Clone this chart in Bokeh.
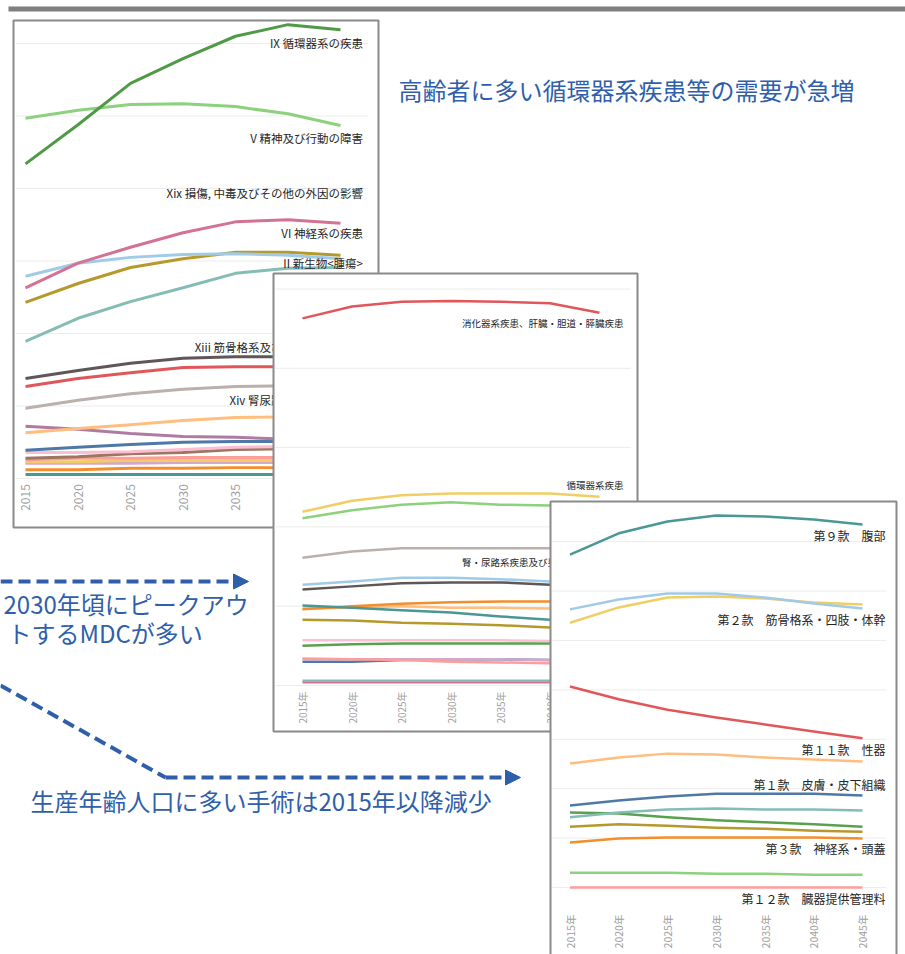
import math
from bokeh.plotting import figure
from bokeh.models import Range1d, Arrow, NormalHead
from bokeh.embed import file_html
from bokeh.resources import INLINE
from bokeh.core.properties import value

# ---------------- data (arbitrary index units) ----------------
years = [2015, 2020, 2025, 2030, 2035, 2040, 2045]
p1_ticks = ["2015", "2020", "2025", "2030", "2035", "2040", "2045"]
jp_ticks = ["2015年", "2020年", "2025年", "2030年", "2035年", "2040年", "2045年"]

# Panel 1: 傷病大分類
p1_ix       = [4340, 4880, 5450, 5790, 6100, 6260, 6190]
p1_v        = [4970, 5080, 5160, 5170, 5130, 5030, 4870]
p1_vi       = [2630, 2970, 3190, 3390, 3540, 3570, 3520]
p1_skyblue  = [2790, 2970, 3050, 3090, 3100, 3080, 3030]
p1_gold     = [2430, 2690, 2910, 3030, 3120, 3120, 3080]
p1_ii       = [1890, 2210, 2440, 2630, 2830, 2900, 2910]
p1_xiii     = [1380, 1490, 1590, 1660, 1680, 1680, 1670]
p1_red      = [1270, 1380, 1460, 1530, 1540, 1540, 1530]
p1_xiv      = [970, 1080, 1170, 1230, 1270, 1280, 1270]
p1_lorange  = [630, 690, 740, 800, 840, 850, 850]
p1_purple   = [720, 680, 620, 580, 570, 540, 520]
p1_blue     = [390, 430, 470, 500, 510, 510, 510]
p1_lpink    = [360, 360, 370, 400, 430, 440, 440]
p1_brown    = [280, 300, 340, 360, 400, 410, 410]
p1_salmon   = [260, 280, 280, 290, 290, 290, 290]
p1_yellow   = [230, 230, 250, 250, 250, 250, 250]
p1_lavender = [210, 210, 210, 220, 220, 220, 220]
p1_orange   = [120, 120, 140, 140, 150, 150, 150]
p1_teal     = [55, 55, 55, 55, 55, 55, 55]
p1_labels = ["IX  循環器系の疾患", "V  精神及び行動の障害", "Xix  損傷, 中毒及びその他の外因の影響",
             "VI  神経系の疾患", "II  新生物<腫瘍>", "Xiii  筋骨格系及び結合組織の疾患", "Xiv  腎尿路生殖器系の疾患"]

# Panel 2: MDC
p2_digest   = [4630, 4780, 4840, 4850, 4840, 4820, 4700]
p2_circ     = [2190, 2330, 2400, 2420, 2420, 2420, 2380]
p2_lgreen   = [2110, 2210, 2280, 2310, 2280, 2270, 2240]
p2_kidney   = [1610, 1690, 1730, 1730, 1730, 1730, 1720]
p2_skyblue  = [1270, 1310, 1360, 1360, 1340, 1310, 1290]
p2_gray     = [1210, 1250, 1290, 1300, 1300, 1270, 1260]
p2_teal     = [1010, 980, 950, 920, 870, 830, 790]
p2_orange   = [960, 1000, 1030, 1050, 1060, 1060, 1060]
p2_lorange  = [970, 980, 1000, 980, 980, 970, 960]
p2_olive    = [830, 820, 790, 780, 760, 730, 720]
p2_lpink    = [570, 570, 570, 570, 570, 560, 560]
p2_green    = [500, 520, 530, 530, 530, 530, 530]
p2_salmon   = [340, 330, 320, 300, 290, 280, 280]
p2_lavender = [330, 330, 330, 330, 330, 320, 320]
p2_blue     = [300, 300, 320, 330, 330, 320, 320]
p2_lteal    = [60, 60, 60, 60, 60, 60, 60]
p2_magenta  = [40, 40, 40, 40, 40, 40, 40]
p2_labels = ["消化器系疾患、肝臓・胆道・膵臓疾患", "循環器系疾患", "腎・尿路系疾患及び男性生殖器系疾患"]

# Panel 3: 手術 (款)
p3_k9       = [6740, 7170, 7410, 7530, 7510, 7450, 7350]
p3_skyblue  = [5630, 5830, 5950, 5950, 5870, 5750, 5650]
p3_k2       = [5360, 5670, 5870, 5890, 5850, 5770, 5730]
p3_k11      = [4070, 3810, 3600, 3440, 3300, 3160, 3020]
p3_lorange  = [2510, 2630, 2710, 2690, 2630, 2590, 2550]
p3_k1       = [1660, 1760, 1840, 1900, 1900, 1900, 1860]
p3_lteal    = [1420, 1520, 1580, 1600, 1580, 1580, 1560]
p3_green    = [1520, 1500, 1420, 1360, 1320, 1280, 1230]
p3_olive    = [1230, 1280, 1250, 1210, 1190, 1150, 1130]
p3_k3       = [910, 990, 1010, 1010, 1010, 1010, 990]
p3_lgreen   = [300, 300, 300, 280, 280, 260, 260]
p3_k12      = [0, 0, 0, 0, 0, 0, 0]
p3_labels = ["第９款　腹部", "第２款　筋骨格系・四肢・体幹", "第１１款　性器",
             "第１款　皮膚・皮下組織", "第３款　神経系・頭蓋", "第１２款　臓器提供管理料"]

notes = ["高齢者に多い循環器系疾患等の需要が急増", "2030年頃にピークアウ", "トするMDCが多い",
         "生産年齢人口に多い手術は2015年以降減少"]

# ---------------- styles / layout ----------------
W, H = 905, 954
FONT = "Noto Sans CJK JP"
BLUE = "#2f5fab"
GRID = "#ececec"
FRAME = "#8a8a8a"

p1_series = [p1_teal, p1_orange, p1_lavender, p1_yellow, p1_salmon, p1_brown, p1_lpink, p1_blue,
             p1_purple, p1_lorange, p1_xiv, p1_red, p1_xiii, p1_ii, p1_gold, p1_skyblue, p1_vi, p1_v, p1_ix]
p1_colors = ["#499894", "#F28E2B", "#D4A6C8", "#F1CE63", "#FF9D9A", "#9D7660", "#FABFD2", "#4E79A7",
             "#B07AA1", "#FFBE7D", "#BAB0AC", "#E15759", "#5f5757", "#86BCB6", "#B6992D", "#A0CBE8",
             "#D37295", "#8CD17D", "#4f9a45"]
p2_series = [p2_magenta, p2_lteal, p2_blue, p2_lavender, p2_salmon, p2_green, p2_lpink, p2_olive,
             p2_lorange, p2_orange, p2_teal, p2_gray, p2_skyblue, p2_kidney, p2_lgreen, p2_circ, p2_digest]
p2_colors = ["#D37295", "#86BCB6", "#4E79A7", "#D4A6C8", "#FF9D9A", "#59A14F", "#FABFD2", "#B6992D",
             "#FFBE7D", "#F28E2B", "#499894", "#5f5757", "#A0CBE8", "#BAB0AC", "#8CD17D", "#F1CE63", "#E15759"]
p3_series = [p3_k12, p3_lgreen, p3_k3, p3_olive, p3_green, p3_lteal, p3_k1, p3_lorange,
             p3_k11, p3_k2, p3_skyblue, p3_k9]
p3_colors = ["#FF9D9A", "#8CD17D", "#F28E2B", "#B6992D", "#59A14F", "#86BCB6", "#4E79A7", "#FFBE7D",
             "#E15759", "#F1CE63", "#A0CBE8", "#499894"]

# pixel placement of each panel: (px of 2015, px of 2045), (px of value 0, px per 1000)
PANELS = {
    "p1": dict(x=(25, 340), y=(478, 72.5), box=(13, 378, 20, 527)),
    "p2": dict(x=(302, 599), y=(685, 79.3), box=(273, 637, 273, 731)),
    "p3": dict(x=(569.5, 862), y=(887, 49.4), box=(550, 896, 501, 970)),
}


def xr(px0, px1):
    ppy = (px1 - px0) / (years[-1] - years[0])
    start = years[0] - px0 / ppy
    return Range1d(start=start, end=start + W / ppy)


def yr(base, ppk):
    return Range1d(start=(base - H) / ppk * 1000, end=base / ppk * 1000)


p = figure(width=W, height=H, x_range=Range1d(0, W), y_range=Range1d(H, 0),
           output_backend="svg", toolbar_location=None, min_border=0,
           x_axis_location=None, y_axis_location=None)
p.grid.visible = False
p.outline_line_color = None
p.background_fill_color = "white"
p.border_fill_color = "white"
p.extra_x_ranges = {k + "x": xr(*v["x"]) for k, v in PANELS.items()}
p.extra_y_ranges = {k + "y": yr(*v["y"]) for k, v in PANELS.items()}

# top bar
p.quad(left=[8], right=[W], top=[6], bottom=[11], fill_color="#7f7f7f", line_color=None)


def panel(key, series, colors, lw, gridvals, grid_x, tick_text, tick_y, tick_size):
    l, r, t, b = PANELS[key]["box"]
    p.quad(left=[l], right=[r], top=[t], bottom=[b], fill_color="white",
           line_color=FRAME, line_width=2)
    p.segment(x0=[grid_x[0]] * len(gridvals), x1=[grid_x[1]] * len(gridvals),
              y0=gridvals, y1=gridvals, line_color=GRID, line_width=1, y_range_name=key + "y")
    for vals, col in zip(series, colors):
        p.line(years, vals, line_color=col, line_width=lw, line_join="round",
               x_range_name=key + "x", y_range_name=key + "y")
    p.text(x=years, y=[tick_y] * len(years), text=tick_text, angle=math.pi / 2,
           text_align="center", text_baseline="middle", text_color="#a0a0a0",
           text_font=value(FONT), text_font_size=tick_size, x_range_name=key + "x")


def labels(texts, xr_px, ys, size):
    p.text(x=[xr_px] * len(texts), y=ys, text=texts, text_align="right", text_baseline="middle",
           text_color="#262626", text_font=value(FONT), text_font_size=size)


# panel 1
panel("p1", p1_series, p1_colors, 3, [0, 1000, 2000, 3000, 4000, 5000, 6000], (15, 368),
      p1_ticks, 497, "12px")
labels(p1_labels, 365, [42, 137, 192, 232, 262, 346, 399], "11.5px")

# panel 2
panel("p2", p2_series, p2_colors, 2.5, [0, 1000, 2000, 3000, 4000, 5000], (275, 630),
      jp_ticks, 707, "10px")
labels(p2_labels, 623, [322, 484, 561], "9.5px")

# panel 3
panel("p3", p3_series, p3_colors, 2.5, [0, 1000, 2000, 3000, 4000, 5000, 6000, 7000], (552, 886),
      jp_ticks, 931, "10.5px")
labels(p3_labels, 885, [535, 619, 749, 784, 848, 898], "12px")

# annotations
p.text(x=[398], y=[89], text=[notes[0]], text_align="left", text_baseline="middle",
       text_color=BLUE, text_font=value(FONT), text_font_size="24px")
p.text(x=[3, 7], y=[603, 632], text=[notes[1], notes[2]], text_align="left", text_baseline="middle",
       text_color=BLUE, text_font=value(FONT), text_font_size="24px")
p.text(x=[30], y=[800], text=[notes[3]], text_align="left", text_baseline="middle",
       text_color=BLUE, text_font=value(FONT), text_font_size="24px")

p.add_layout(Arrow(end=NormalHead(size=15, fill_color=BLUE, line_color=BLUE),
                   x_start=0, y_start=581, x_end=248, y_end=581,
                   line_color=BLUE, line_width=4, line_dash="12 6"))
p.line(x=[0, 165], y=[685, 777], line_color=BLUE, line_width=4, line_dash="12 6")
p.add_layout(Arrow(end=NormalHead(size=15, fill_color=BLUE, line_color=BLUE),
                   x_start=165, y_start=777, x_end=520, y_end=777,
                   line_color=BLUE, line_width=4, line_dash="12 6"))

open("out.html", "w").write(file_html(p, INLINE))
